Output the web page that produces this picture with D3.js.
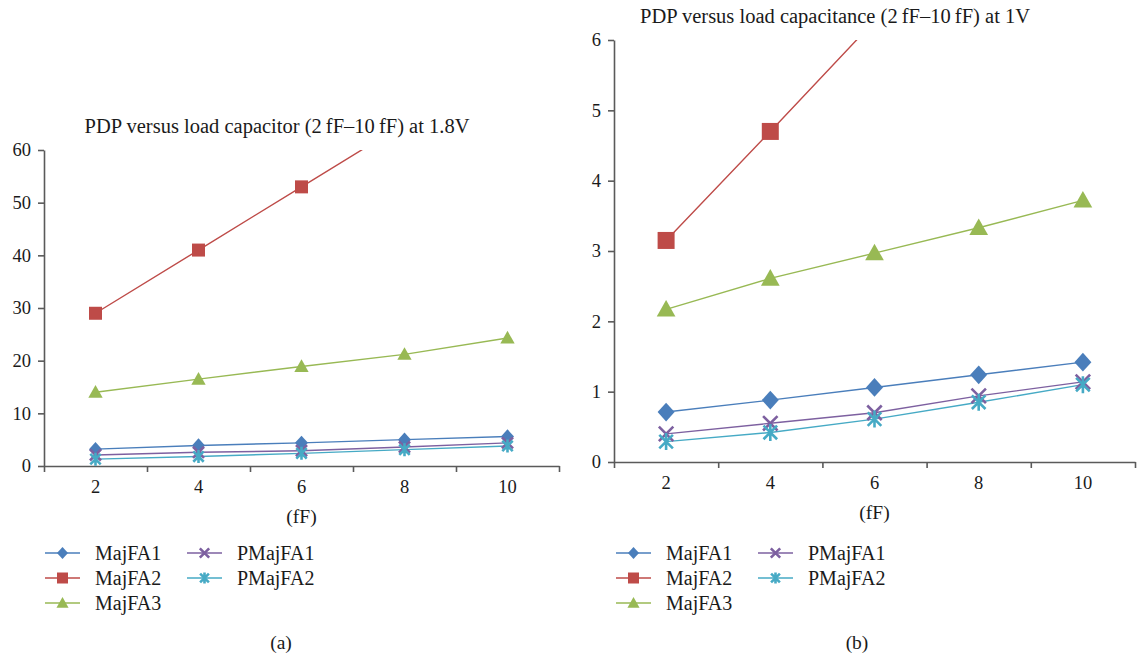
<!DOCTYPE html>
<html>
<head>
<meta charset="utf-8">
<script src="https://cdn.jsdelivr.net/npm/d3@7"></script>
<style>
  body { margin: 0; background: #fff; }
  svg { display: block; }
  svg text { font-family: "Liberation Serif", "Times New Roman", Times, serif !important; }
</style>
</head>
<body>
<svg id="chart" width="1138" height="657"></svg>
<script>
// --- DATOS ---
const categories = [2, 4, 6, 8, 10];
const seriesNames = ["MajFA1", "MajFA2", "MajFA3", "PMajFA1", "PMajFA2"];

// (a) 1.8V
const a_MajFA1 = [3.2, 3.9, 4.4, 5.0, 5.6];
const a_MajFA2 = [29, 41, 53, 65, 77];
const a_MajFA3 = [14.0, 16.5, 18.9, 21.2, 24.3];
const a_PMajFA1 = [2.1, 2.6, 2.9, 3.6, 4.4];
const a_PMajFA2 = [1.3, 1.8, 2.4, 3.1, 3.8];
const a_yTicks = [0, 10, 20, 30, 40, 50, 60];

// (b) 1V
const b_MajFA1 = [0.71, 0.88, 1.06, 1.24, 1.42];
const b_MajFA2 = [3.15, 4.7, 6.27, 7.84, 9.4];
const b_MajFA3 = [2.17, 2.61, 2.97, 3.33, 3.72];
const b_PMajFA1 = [0.40, 0.55, 0.70, 0.94, 1.14];
const b_PMajFA2 = [0.29, 0.42, 0.61, 0.85, 1.10];
const b_yTicks = [0, 1, 2, 3, 4, 5, 6];

// --- ESTILOS ---
const colors = {
  MajFA1: "#4a7ebb",
  MajFA2: "#be4b48",
  MajFA3: "#98b954",
  PMajFA1: "#7d60a0",
  PMajFA2: "#46aac5"
};
const shapes = {
  MajFA1: "diamond",
  MajFA2: "square",
  MajFA3: "triangle",
  PMajFA1: "x",
  PMajFA2: "star"
};
const axisColor = "#5a5a5a";
const textColor = "#1a1a1a";

const svg = d3.select("#chart");

// Dibuja un marcador en (0,0) dentro de g
function drawMarker(g, shape, color, s) {
  const h = s / 2;
  if (shape === "diamond") {
    g.append("path").attr("d", `M0,${-h * 1.1}L${h},0L0,${h * 1.1}L${-h},0Z`).attr("fill", color);
  } else if (shape === "square") {
    g.append("path").attr("d", `M${-h},${-h}h${s}v${s}h${-s}Z`).attr("fill", color);
  } else if (shape === "triangle") {
    g.append("path").attr("d", `M0,${-h * 1.1}L${h * 1.1},${h * 0.85}L${-h * 1.1},${h * 0.85}Z`).attr("fill", color);
  } else if (shape === "x") {
    const k = h * 0.85;
    g.append("path").attr("d", `M${-k},${-k}L${k},${k}M${k},${-k}L${-k},${k}`)
      .attr("stroke", color).attr("stroke-width", 2.6).attr("fill", "none");
  } else if (shape === "star") {
    const k = h * 0.8;
    g.append("path").attr("d", `M${-k},${-k}L${k},${k}M${k},${-k}L${-k},${k}M0,${-h}L0,${h}`)
      .attr("stroke", color).attr("stroke-width", 2.6).attr("fill", "none");
  }
}

function drawPanel(cfg) {
  const { left, right, top, bottom, ymax, yTicks, data, ms, id } = cfg;

  const xBand = d3.scaleBand().domain(categories).range([left, right]).padding(0);
  const xEdge = d3.scaleLinear().domain([0, categories.length]).range([left, right]);
  const y = d3.scaleLinear().domain([0, ymax]).range([bottom, top]);

  // Eje Y
  const gy = svg.append("g")
    .attr("transform", `translate(${left},0)`)
    .call(d3.axisLeft(y).tickValues(yTicks).tickFormat(d3.format("d"))
      .tickSize(6).tickSizeOuter(0).tickPadding(7));
  gy.select(".domain").attr("stroke", axisColor).attr("stroke-width", 1.6);
  gy.selectAll(".tick line").attr("stroke", axisColor).attr("stroke-width", 1.6);
  gy.selectAll(".tick text").attr("font-size", 18.5).attr("fill", textColor);

  // Eje X: marcas entre categorías
  const gx = svg.append("g")
    .attr("transform", `translate(0,${bottom})`)
    .call(d3.axisBottom(xEdge).tickValues(d3.range(categories.length + 1)).tickSize(6).tickSizeOuter(0).tickFormat(""));
  gx.select(".domain").attr("stroke", axisColor).attr("stroke-width", 1.6);
  gx.selectAll(".tick line").attr("stroke", axisColor).attr("stroke-width", 1.6);

  // Etiquetas X
  const gxl = svg.append("g")
    .attr("transform", `translate(0,${bottom})`)
    .call(d3.axisBottom(xBand).tickSize(0).tickPadding(14));
  gxl.select(".domain").remove();
  gxl.selectAll(".tick text").attr("font-size", 18.5).attr("fill", textColor);

  // Recorte del área de trazado
  svg.append("clipPath").attr("id", "clip-" + id)
    .append("rect").attr("x", left).attr("y", top).attr("width", right - left).attr("height", bottom - top);

  const line = d3.line()
    .x((d, i) => xBand(categories[i]) + xBand.bandwidth() / 2)
    .y(d => y(d));

  seriesNames.forEach(name => {
    svg.append("path")
      .datum(data[name])
      .attr("clip-path", `url(#clip-${id})`)
      .attr("fill", "none")
      .attr("stroke", colors[name])
      .attr("stroke-width", 1.4)
      .attr("d", line);
  });

  seriesNames.forEach(name => {
    data[name].forEach((v, i) => {
      if (v > ymax) return;
      const g = svg.append("g")
        .attr("transform", `translate(${xBand(categories[i]) + xBand.bandwidth() / 2},${y(v)})`);
      drawMarker(g, shapes[name], colors[name], ms);
    });
  });

  // Título
  svg.append("text")
    .attr("x", cfg.titleX).attr("y", cfg.titleY)
    .attr("text-anchor", "middle")
    .attr("font-size", 20.5).attr("fill", textColor)
    .text(cfg.title);

  // Etiqueta eje X
  svg.append("text")
    .attr("x", (left + right) / 2).attr("y", bottom + 57)
    .attr("text-anchor", "middle")
    .attr("font-size", 19.5).attr("fill", textColor)
    .text("(fF)");

  // Leyenda
  const lx = cfg.legendX;
  const rows = [
    ["MajFA1", 0, 0], ["MajFA2", 0, 1], ["MajFA3", 0, 2],
    ["PMajFA1", 1, 0], ["PMajFA2", 1, 1]
  ];
  rows.forEach(([name, col, row]) => {
    const x0 = lx + col * 142;
    const y0 = 553 + row * 25;
    svg.append("line")
      .attr("x1", x0).attr("x2", x0 + 35).attr("y1", y0).attr("y2", y0)
      .attr("stroke", colors[name]).attr("stroke-width", 1.6);
    const g = svg.append("g").attr("transform", `translate(${x0 + 17.5},${y0})`);
    drawMarker(g, shapes[name], colors[name], 11);
    svg.append("text")
      .attr("x", x0 + 50).attr("y", y0 + 7)
      .attr("font-size", 20).attr("fill", textColor)
      .text(name);
  });

  svg.append("text")
    .attr("x", cfg.capX).attr("y", 649)
    .attr("text-anchor", "middle")
    .attr("font-size", 19.5).attr("fill", textColor)
    .text(cfg.caption);
}

function pack(a, b, c, d, e) {
  return { MajFA1: a, MajFA2: b, MajFA3: c, PMajFA1: d, PMajFA2: e };
}

drawPanel({
  id: "a", left: 44, right: 559, top: 150, bottom: 466, ymax: 60, yTicks: a_yTicks,
  data: pack(a_MajFA1, a_MajFA2, a_MajFA3, a_PMajFA1, a_PMajFA2),
  ms: 13, title: "PDP versus load capacitor (2\u2009fF–10\u2009fF) at 1.8V", titleX: 277, titleY: 133,
  legendX: 45, caption: "(a)", capX: 281
});

drawPanel({
  id: "b", left: 614, right: 1135, top: 40, bottom: 462, ymax: 6, yTicks: b_yTicks,
  data: pack(b_MajFA1, b_MajFA2, b_MajFA3, b_PMajFA1, b_PMajFA2),
  ms: 17, title: "PDP versus load capacitance (2\u2009fF–10\u2009fF) at 1V", titleX: 835, titleY: 23,
  legendX: 616, caption: "(b)", capX: 857
});
</script>
</body>
</html>
